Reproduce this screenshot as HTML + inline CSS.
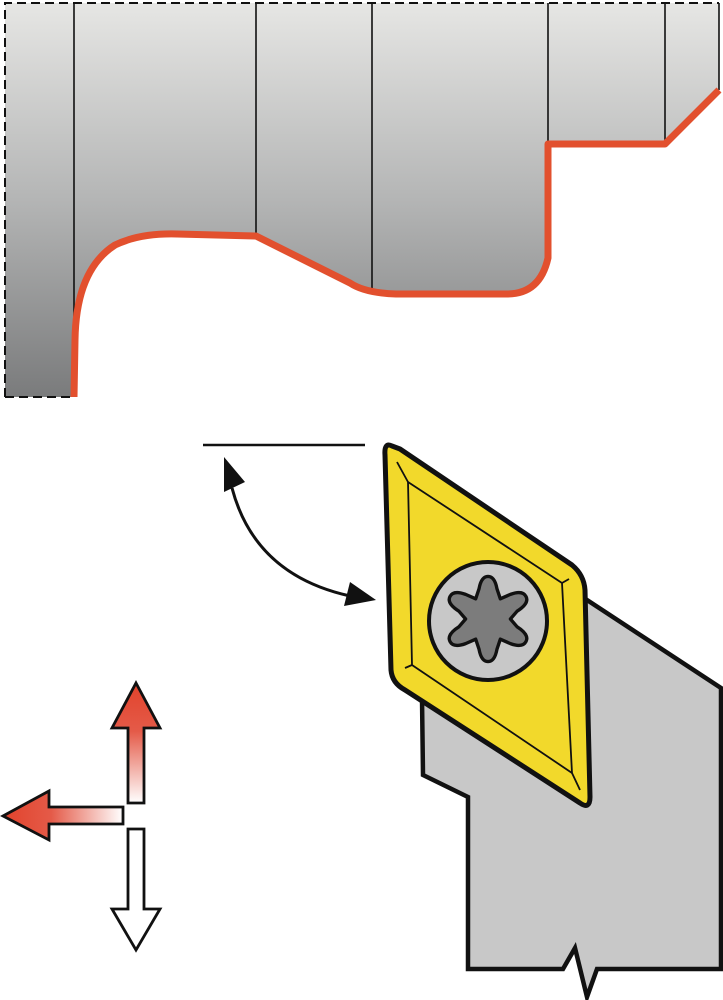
<!DOCTYPE html>
<html><head><meta charset="utf-8"><style>html,body{margin:0;padding:0;background:#fff}svg{display:block}</style></head>
<body>
<svg width="723" height="1000" viewBox="0 0 723 1000" xmlns="http://www.w3.org/2000/svg">
<defs>
<linearGradient id="wg" x1="0" y1="0" x2="0" y2="1" gradientUnits="objectBoundingBox">
<stop offset="0" stop-color="#e6e6e4"/><stop offset="0.5" stop-color="#b4b5b5"/><stop offset="1" stop-color="#7a7b7c"/>
</linearGradient>
<linearGradient id="up" x1="0" y1="683" x2="0" y2="803" gradientUnits="userSpaceOnUse">
<stop offset="0" stop-color="#e2432c"/><stop offset="0.4" stop-color="#e45a48"/><stop offset="1" stop-color="#fff"/>
</linearGradient>
<linearGradient id="lf" x1="3" y1="0" x2="123" y2="0" gradientUnits="userSpaceOnUse">
<stop offset="0" stop-color="#e2432c"/><stop offset="0.4" stop-color="#e45a48"/><stop offset="1" stop-color="#fff"/>
</linearGradient>
</defs>
<path d="M5,3 L719,3 L719,90 L665,144 L548,144 L548,258 Q540,297 507,297 L396,297 Q380,297 369,292 L256,236 L177,234 Q140,233 115,245 Q76,270 75,340 L74,397 L5,397 Z" fill="url(#wg)"/>
<g stroke="#111" stroke-width="1.6">
<line x1="74" y1="3" x2="74" y2="330"/>
<line x1="256" y1="3" x2="256" y2="236"/>
<line x1="372" y1="3" x2="372" y2="292"/>
<line x1="548" y1="3" x2="548" y2="144"/>
<line x1="665" y1="3" x2="665" y2="144"/>
<line x1="719" y1="3" x2="719" y2="90"/>
</g>
<path d="M5,397 L5,3 L719,3" fill="none" stroke="#111" stroke-width="2" stroke-dasharray="9,5"/>
<line x1="5" y1="397" x2="74" y2="397" stroke="#111" stroke-width="2" stroke-dasharray="9,5"/>
<path d="M74,397 L75,340 Q76,270 115,245 Q140,233 177,234 L256,236 L350,283 Q365,293 396,294 L507,294 Q540,294 548,258 L548,144 L665,144 L719,90" fill="none" stroke="#e2502e" stroke-width="7" stroke-linejoin="round"/>
<line x1="203" y1="445" x2="365" y2="445" stroke="#111" stroke-width="2.5"/>
<path d="M232,488 Q255,575 350,596" fill="none" stroke="#111" stroke-width="3"/>
<polygon points="224,457 245,482 224,492" fill="#111"/>
<polygon points="376,600 344,606 350,582" fill="#111"/>
<polygon points="587,600 721,688 721,969 597,969 587,997 575,948 563,969 468,969 468,797 423,775 422,698" fill="#c8c8c8" stroke="#111" stroke-width="4.5" stroke-linejoin="miter"/>
<path d="M392,446 Q384,442 385,455 L391,670 Q392,683 405,690 L580,803 Q590,810 590,797 L585,590 Q584,575 572,565 L400,449 Z" fill="#f2d92b" stroke="#111" stroke-width="5" stroke-linejoin="round"/>
<polygon points="408,482 562,583 572,773 412,665" fill="none" stroke="#111" stroke-width="1.8"/>
<g stroke="#111" stroke-width="1.8">
<line x1="397" y1="462" x2="408" y2="482"/>
<line x1="562" y1="583" x2="569" y2="579"/>
<line x1="572" y1="773" x2="580" y2="790"/>
<line x1="412" y1="665" x2="405" y2="668"/>
</g>
<circle cx="488" cy="621" r="59" fill="#c8c8c8" stroke="#111" stroke-width="4"/>
<g transform="translate(488,619) scale(1.12) translate(-488,-619)">
<path d="M488,581 Q494,581 496,592 L499,601 L508,597 Q519,593 522,599 Q525,605 514,612 L508,619 L514,626 Q525,633 522,639 Q519,645 508,641 L499,637 L496,646 Q494,657 488,657 Q482,657 480,646 L477,637 L468,641 Q457,645 454,639 Q451,633 462,626 L468,619 L462,612 Q451,605 454,599 Q457,593 468,597 L477,601 L480,592 Q482,581 488,581 Z" fill="#7c7c7c" stroke="#111" stroke-width="3" stroke-linejoin="round"/>
</g>
<polygon points="136,683 160,728 144,728 144,803 128,803 128,728 112,728" fill="url(#up)" stroke="#111" stroke-width="2.8" stroke-linejoin="miter"/>
<polygon points="3,816 49,791 49,807 123,807 123,824 49,824 49,840" fill="url(#lf)" stroke="#111" stroke-width="2.8"/>
<polygon points="128,829 144,829 144,909 160,909 136,950 112,909 128,909" fill="#fff" stroke="#111" stroke-width="2.8"/>
</svg>
</body></html>
